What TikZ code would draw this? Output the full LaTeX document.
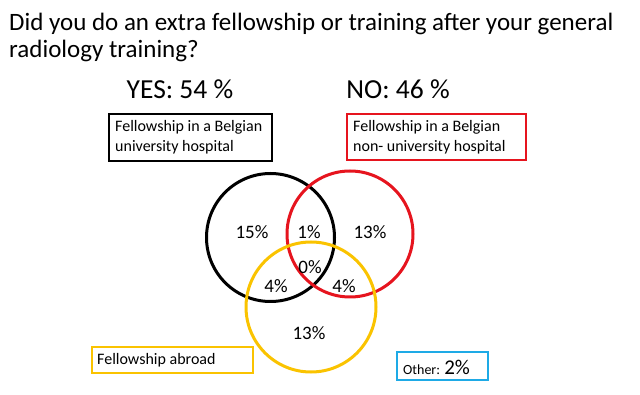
\documentclass[tikz,border=0pt]{standalone}
\usepackage{fontspec}
\setmainfont{Carlito}
\definecolor{vred}{RGB}{230,20,30}
\definecolor{vyel}{RGB}{250,195,0}
\definecolor{vblue}{RGB}{30,170,230}
\begin{document}
\begin{tikzpicture}[x=1pt,y=-1pt,
  ring/.style={line width=3pt},
  ttl/.style={anchor=base west,inner sep=0pt,font=\fontsize{25}{29}\selectfont},
  big/.style={anchor=base,inner sep=0pt,font=\fontsize{27.5}{28}\selectfont},
  pct/.style={font=\fontsize{19}{19}\selectfont,inner sep=0pt},
  boxtxt/.style={font=\fontsize{16}{19.5}\selectfont,align=left,inner sep=0pt,anchor=west}]
\useasboundingbox (0,0) rectangle (640,395);
\node[ttl] (title1) at (9,31) {Did you do an extra fellowship or training after your general};
\node[ttl] (title2) at (9,58) {radiology training?};
\node[big] (yes) at (180,99) {YES: 54 \%};
\node[big] (no) at (398,99) {NO: 46 \%};
% circles
\draw[ring,black] (270.5,237.5) circle (64);
\draw[ring,vred] (350,234) circle (63);
\draw[ring,vyel] (311,307) circle (65);
% boxes
\draw[line width=1.6pt,black] (109,114) rectangle (272,161);
\node[boxtxt] (b1) at (115,137) {Fellowship in a Belgian\\university hospital};
\draw[line width=1.6pt,vred] (347,114) rectangle (526,160);
\node[boxtxt] (b2) at (353,137) {Fellowship in a Belgian\\non- university hospital};
\draw[line width=1.6pt,vyel] (92,347) rectangle (253,373);
\node[boxtxt] (b3) at (97,360) {Fellowship abroad};
\draw[line width=1.6pt,vblue] (397,352) rectangle (488,380);
\node[anchor=west,inner sep=0pt] (b4) at (403,367) {\fontsize{14}{14}\selectfont Other: \fontsize{21}{21}\selectfont 2\%};
% labels
\node[pct] (p1) at (252,232) {15\%};
\node[pct] (p2) at (309,232) {1\%};
\node[pct] (p3) at (370,232) {13\%};
\node[pct] (p4) at (310,267) {0\%};
\node[pct] (p5) at (276,286) {4\%};
\node[pct] (p6) at (344,286) {4\%};
\node[pct] (p7) at (309,333) {13\%};
\end{tikzpicture}
\end{document}
